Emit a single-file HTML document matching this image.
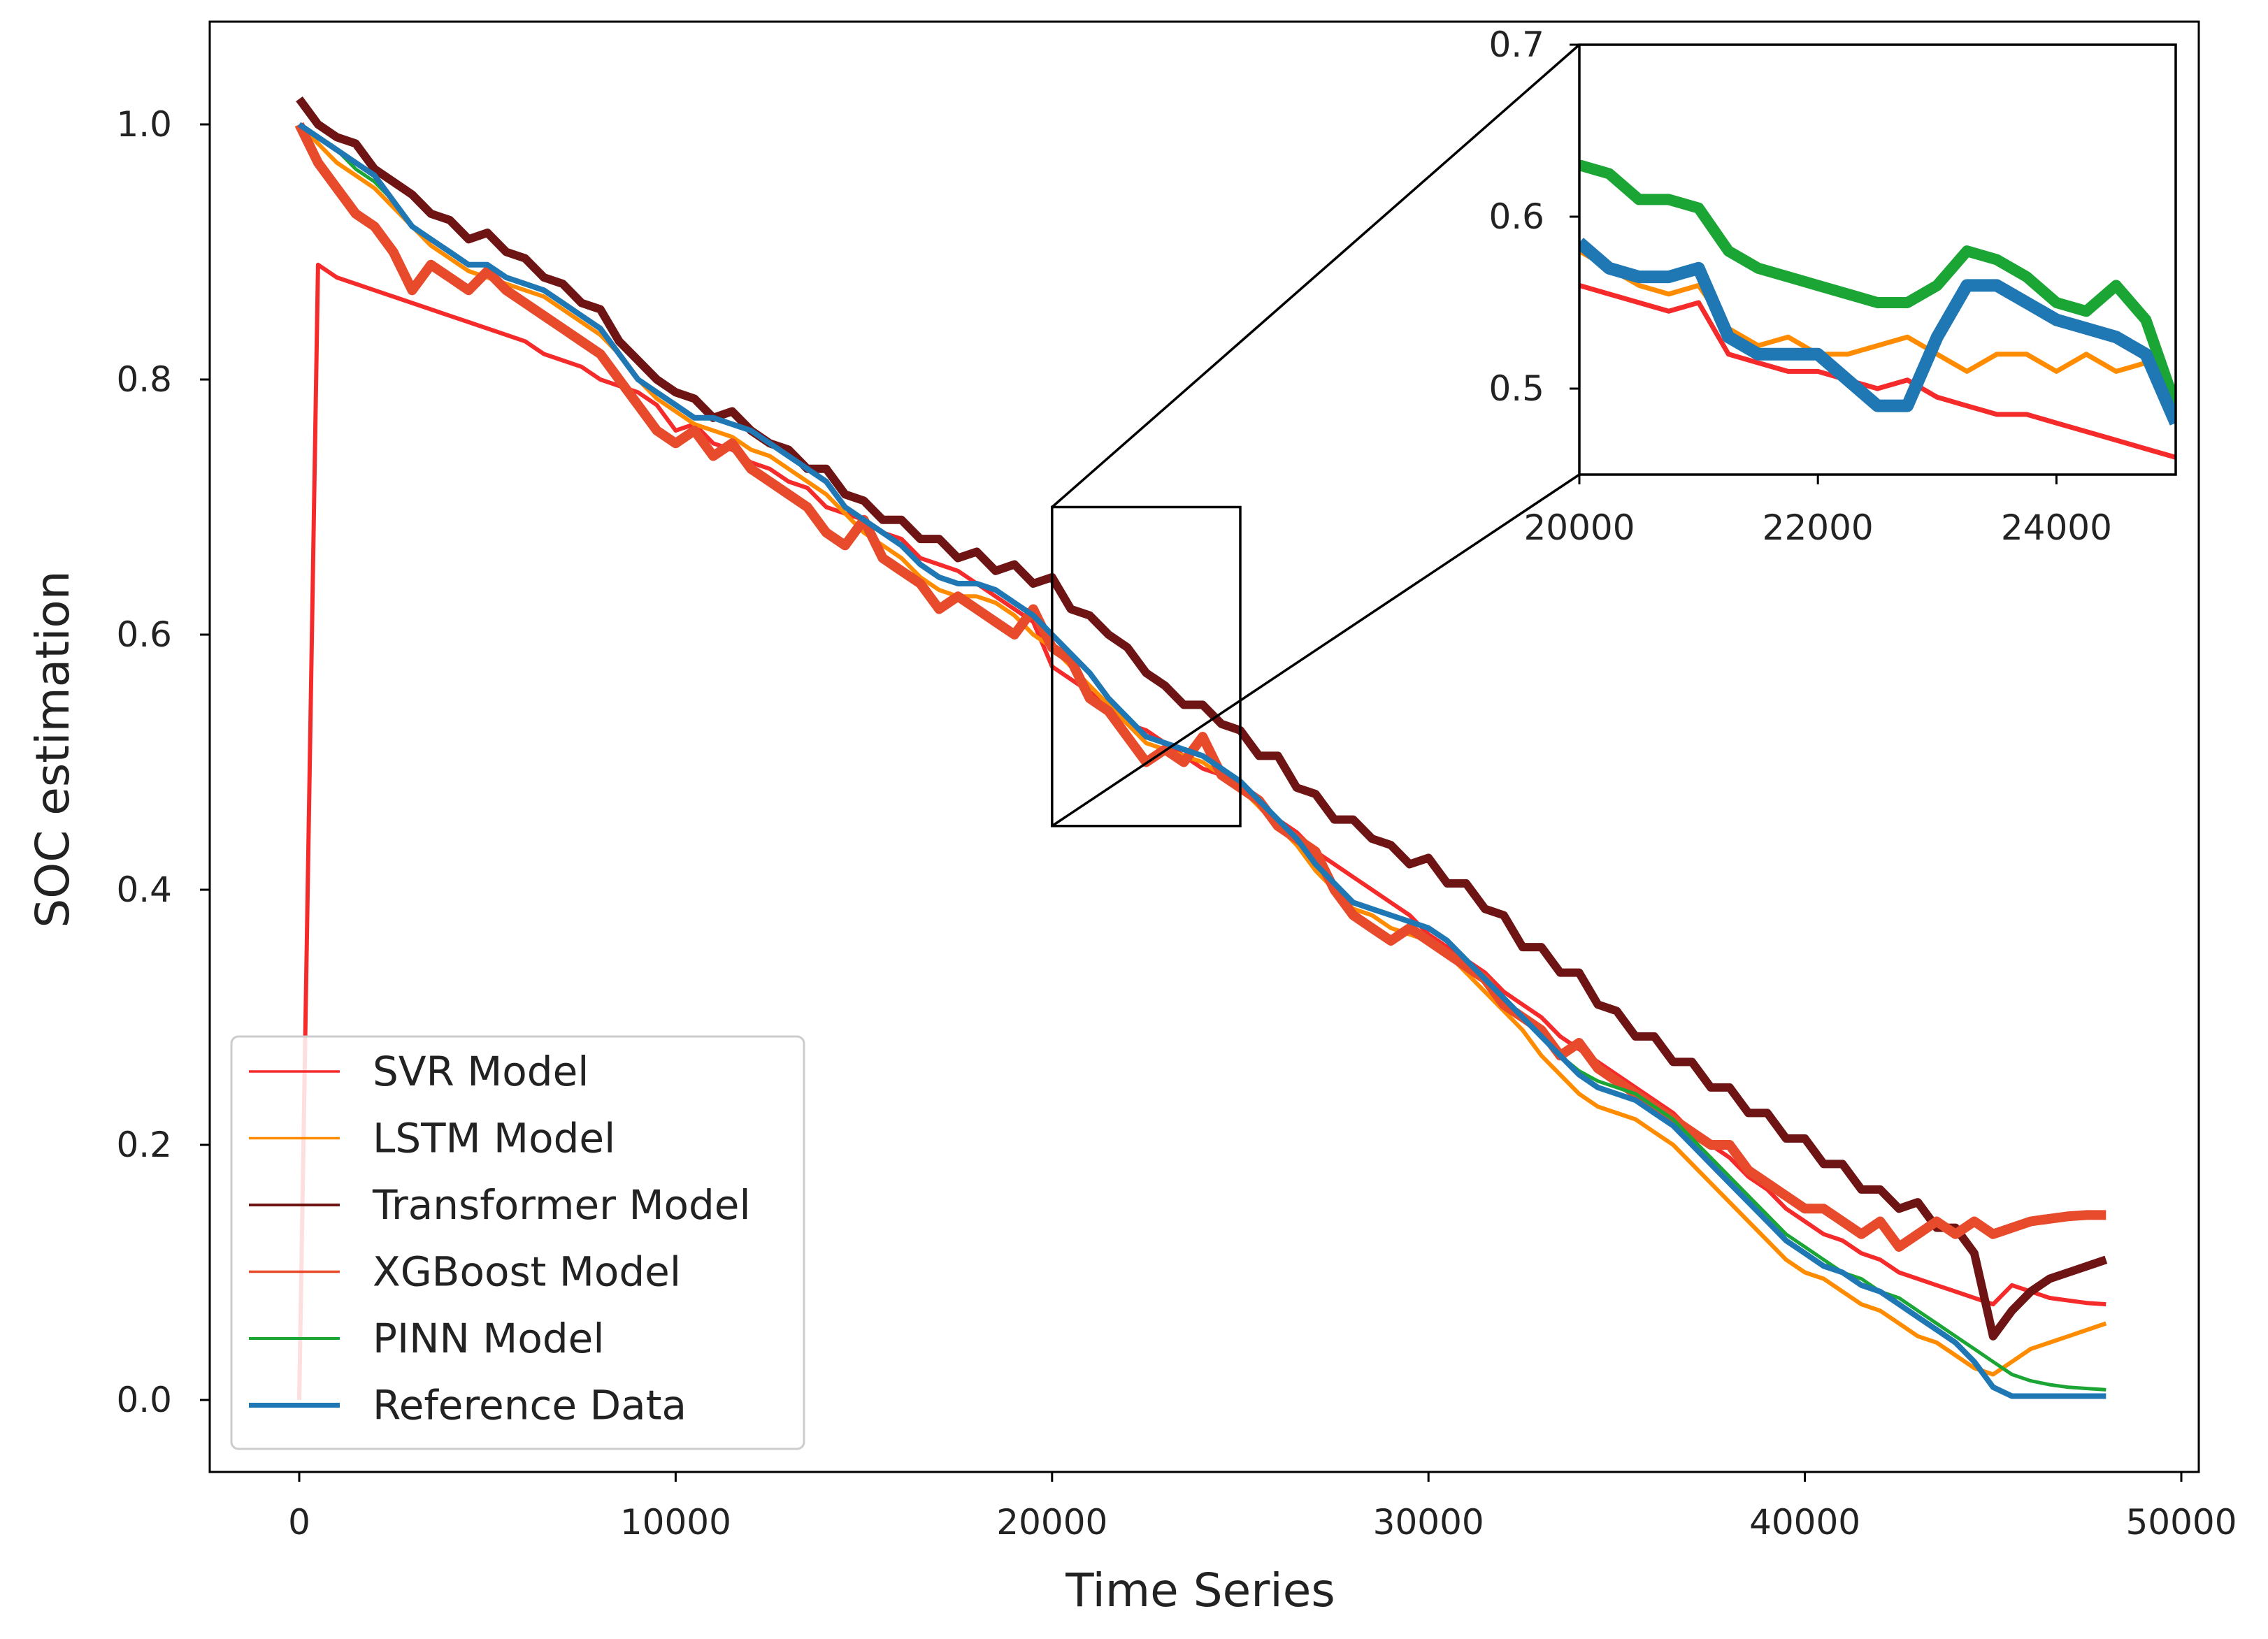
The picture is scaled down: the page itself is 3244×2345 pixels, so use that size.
<!DOCTYPE html>
<html><head><meta charset="utf-8"><style>
html,body{margin:0;padding:0;background:#fff;}
svg{display:block;font-family:"DejaVu Sans","Liberation Sans",sans-serif;}
</style></head><body>
<svg id="chart" width="3244" height="2345" viewBox="0 0 3244 2345" xmlns="http://www.w3.org/2000/svg">
<rect x="0" y="0" width="3244" height="2345" fill="#fff"/>
<g id="main"></g>
<g id="inset"></g>
<g id="legend"></g>
</svg>
<script>
const times = [];
for (let i = 0; i <= 96; i++) times.push(i * 500);
const seriesNames = ["SVR Model","LSTM Model","Transformer Model","XGBoost Model","PINN Model","Reference Data"];
const svrVals = [0,.89,.88,.875,.87,.865,.86,.855,.85,.845,
.84,.835,.83,.82,.815,.81,.80,.795,.79,.78,
.76,.765,.75,.745,.735,.73,.72,.715,.70,.695,
.69,.68,.675,.66,.655,.65,.64,.63,.62,.61,
.575,.565,.555,.545,.53,.525,.515,.505,.495,.49,
.48,.47,.455,.445,.43,.42,.41,.40,.39,.38,
.365,.355,.345,.335,.32,.31,.30,.285,.275,.265,
.255,.245,.235,.225,.21,.20,.19,.175,.165,.15,
.14,.13,.125,.115,.11,.10,.095,.09,.085,.08,
.075,.09,.085,.08,.078,.076,.075];
const lstmVals = [1.0,.985,.97,.96,.95,.935,.92,.905,.895,.885,
.88,.875,.87,.865,.855,.845,.835,.82,.80,.785,
.775,.765,.76,.755,.745,.74,.73,.72,.71,.695,
.68,.67,.66,.645,.635,.63,.63,.625,.615,.60,
.59,.575,.56,.545,.53,.515,.51,.505,.50,.49,
.48,.465,.45,.435,.415,.40,.385,.38,.37,.365,
.36,.35,.335,.32,.305,.29,.27,.255,.24,.23,
.225,.22,.21,.20,.185,.17,.155,.14,.125,.11,
.10,.095,.085,.075,.07,.06,.05,.045,.035,.025,
.02,.03,.04,.045,.05,.055,.06];
const transVals = [1.02,1.0,.99,.985,.965,.955,.945,.93,.925,.91,
.915,.90,.895,.88,.875,.86,.855,.83,.815,.80,
.79,.785,.77,.775,.76,.75,.745,.73,.73,.71,
.705,.69,.69,.675,.675,.66,.665,.65,.655,.64,
.645,.62,.615,.60,.59,.57,.56,.545,.545,.53,
.525,.505,.505,.48,.475,.455,.455,.44,.435,.42,
.425,.405,.405,.385,.38,.355,.355,.335,.335,.31,
.305,.285,.285,.265,.265,.245,.245,.225,.225,.205,
.205,.185,.185,.165,.165,.15,.155,.135,.135,.115,
.05,.07,.085,.095,.10,.105,.11];
const xgbVals = [1.0,.97,.95,.93,.92,.90,.87,.89,.88,.87,
.885,.87,.86,.85,.84,.83,.82,.80,.78,.76,
.75,.76,.74,.75,.73,.72,.71,.70,.68,.67,
.69,.66,.65,.64,.62,.63,.62,.61,.60,.62,
.59,.58,.55,.54,.52,.50,.51,.50,.52,.49,
.48,.47,.45,.44,.43,.40,.38,.37,.36,.37,
.36,.35,.34,.33,.31,.30,.29,.27,.28,.26,
.25,.24,.23,.22,.21,.20,.20,.18,.17,.16,
.15,.15,.14,.13,.14,.12,.13,.14,.13,.14,
.13,.135,.14,.142,.144,.145,.145];
const pinnVals = [1.0,.99,.98,.965,.955,.94,.92,.91,.90,.89,
.89,.88,.875,.87,.86,.85,.84,.82,.80,.79,
.78,.77,.77,.765,.76,.75,.74,.73,.72,.70,
.69,.68,.67,.655,.645,.64,.64,.635,.625,.615,
.60,.585,.57,.55,.535,.52,.515,.51,.505,.495,
.485,.47,.455,.44,.42,.405,.39,.385,.38,.375,
.37,.36,.345,.33,.315,.30,.285,.27,.258,.25,
.245,.24,.23,.22,.205,.19,.175,.16,.145,.13,
.12,.11,.10,.095,.085,.08,.07,.06,.05,.04,
.03,.02,.015,.012,.01,.009,.008];
const refVals = [1.0,.99,.98,.97,.96,.94,.92,.91,.90,.89,
.89,.88,.875,.87,.86,.85,.84,.82,.80,.79,
.78,.77,.77,.765,.76,.75,.74,.73,.72,.70,
.69,.68,.67,.655,.645,.64,.64,.635,.625,.615,
.60,.585,.57,.55,.535,.52,.515,.51,.505,.495,
.485,.47,.455,.44,.42,.405,.39,.385,.38,.375,
.37,.36,.345,.33,.315,.30,.285,.27,.255,.245,
.24,.235,.225,.215,.20,.185,.17,.155,.14,.125,
.115,.105,.10,.09,.085,.075,.065,.055,.045,.03,
.01,.003,.003,.003,.003,.003,.003];
const xTicks = [0,10000,20000,30000,40000,50000];
const yTicks = [0.0,0.2,0.4,0.6,0.8,1.0];
const xTickLabels = ["0","10000","20000","30000","40000","50000"];
const yTickLabels = ["0.0","0.2","0.4","0.6","0.8","1.0"];
const insetTimes = [];
for (let i = 0; i <= 20; i++) insetTimes.push(20000 + i * 250);
const insetRef = [.585,.57,.565,.565,.57,.53,.52,.52,.52,.505,.49,.49,.53,.56,.56,.55,.54,.535,.53,.52,.48];
const insetPinn = [.63,.625,.61,.61,.605,.58,.57,.565,.56,.555,.55,.55,.56,.58,.575,.565,.55,.545,.56,.54,.49];
const insetLstm = [.58,.57,.56,.555,.56,.535,.525,.53,.52,.52,.525,.53,.52,.51,.52,.52,.51,.52,.51,.515,.50];
const insetSvr = [.56,.555,.55,.545,.55,.52,.515,.51,.51,.505,.50,.505,.495,.49,.485,.485,.48,.475,.47,.465,.46];
const insetXTicks = [20000,22000,24000];
const insetYTicks = [0.5,0.6,0.7];
const insetXLabels = ["20000","22000","24000"];
const insetYLabels = ["0.5","0.6","0.7"];

const NS = "http://www.w3.org/2000/svg";
function mk(tag, attrs, parent){ const e=document.createElementNS(NS,tag); for(const k in attrs) e.setAttribute(k,attrs[k]); parent.appendChild(e); return e; }

const L=300,R=3145,T=31,B=2106;
const xS = v => 428 + v*(3120-428)/50000;
const yS = v => 2003 - v*(2003-178);
const main=document.getElementById('main');
const colors = {svr:"#f52a2a",lstm:"#ff8c00",trans:"#6e1414",xgb:"#e84a2c",pinn:"#1aa534",ref:"#1f77b4"};
function line(xs, ys, xf, yf, color, w, parent, name){
  let d=""; for(let i=0;i<ys.length;i++){ d+=(i?"L":"M")+xf(xs[i]).toFixed(1)+","+yf(ys[i]).toFixed(1); }
  const p=mk('path',{d:d,fill:"none",stroke:color,"stroke-width":w,"stroke-linejoin":"round"},parent);
  
  
  return p;
}
line(times,svrVals,xS,yS,colors.svr,6,main,"svr-line");
line(times,lstmVals,xS,yS,colors.lstm,6,main,"lstm-line");
line(times,transVals,xS,yS,colors.trans,12,main,"transformer-line");
line(times,xgbVals,xS,yS,colors.xgb,14,main,"xgboost-line");
line(times,pinnVals,xS,yS,colors.pinn,5,main,"pinn-line");
line(times,refVals,xS,yS,colors.ref,8,main,"reference-line");
const frame=mk('rect',{x:L,y:T,width:R-L,height:B-T,fill:"none",stroke:"#000","stroke-width":3},main);


xTicks.forEach((v,i)=>{
  mk('line',{x1:xS(v),x2:xS(v),y1:B,y2:B+14,stroke:"#000","stroke-width":3},main);
  const t=mk('text',{x:xS(v),y:2195,"font-size":50,"text-anchor":"middle",fill:"#222"},main);
  t.textContent=xTickLabels[i];
  
  
});
yTicks.forEach((v,i)=>{
  mk('line',{x1:L-14,x2:L,y1:yS(v),y2:yS(v),stroke:"#000","stroke-width":3},main);
  const t=mk('text',{x:246,y:yS(v)+17,"font-size":50,"text-anchor":"end",fill:"#222"},main);
  t.textContent=yTickLabels[i];
  
  
});
const xl=mk('text',{x:1717,y:2298,"font-size":66,"text-anchor":"middle",fill:"#222"},main);
xl.textContent="Time Series";


const yl=mk('text',{x:0,y:0,"font-size":66,"text-anchor":"middle",fill:"#222",transform:"translate(98,1072) rotate(-90)"},main);
yl.textContent="SOC estimation";



const zx0=20000,zx1=25000,zy0=0.45,zy1=0.7;
const IL=2259,IR=3112,IT=64,IB=679;
const zb=mk('rect',{x:xS(zx0),y:yS(zy1),width:xS(zx1)-xS(zx0),height:yS(zy0)-yS(zy1),fill:"none",stroke:"#000","stroke-width":3.5},main);


const c1=mk('line',{x1:xS(zx0),y1:yS(zy1),x2:IL,y2:IT,stroke:"#000","stroke-width":3.5},main);


const c2=mk('line',{x1:xS(zx0),y1:yS(zy0),x2:IL,y2:IB,stroke:"#000","stroke-width":3.5},main);



const inset=document.getElementById('inset');
const ixS = v => IL + (v-zx0)*(IR-IL)/(zx1-zx0);
const iyS = v => IB - (v-zy0)*(IB-IT)/(zy1-zy0);
mk('rect',{x:IL,y:IT,width:IR-IL,height:IB-IT,fill:"#fff"},inset);
const clip=mk('clipPath',{id:"ic"},inset); mk('rect',{x:IL,y:IT,width:IR-IL,height:IB-IT},clip);
const ig=mk('g',{"clip-path":"url(#ic)"},inset);
line(insetTimes,insetSvr,ixS,iyS,colors.svr,7,ig,"inset-svr-line");
line(insetTimes,insetLstm,ixS,iyS,colors.lstm,7,ig,"inset-lstm-line");
line(insetTimes,insetPinn,ixS,iyS,colors.pinn,16,ig,"inset-pinn-line");
line(insetTimes,insetRef,ixS,iyS,colors.ref,18,ig,"inset-reference-line");
const ifr=mk('rect',{x:IL,y:IT,width:IR-IL,height:IB-IT,fill:"none",stroke:"#000","stroke-width":3.5},inset);


insetXTicks.forEach((v,i)=>{
  mk('line',{x1:ixS(v),x2:ixS(v),y1:IB,y2:IB+14,stroke:"#000","stroke-width":3},inset);
  const t=mk('text',{x:ixS(v),y:772,"font-size":50,"text-anchor":"middle",fill:"#222"},inset);
  t.textContent=insetXLabels[i];
  
  
});
insetYTicks.forEach((v,i)=>{
  mk('line',{x1:IL-14,x2:IL,y1:iyS(v),y2:iyS(v),stroke:"#000","stroke-width":3},inset);
  const t=mk('text',{x:2209,y:iyS(v)+17,"font-size":50,"text-anchor":"end",fill:"#222"},inset);
  t.textContent=insetYLabels[i];
  
  
});

const lg=document.getElementById('legend');
const lb=mk('rect',{x:331,y:1483,width:819,height:590,rx:10,fill:"#fff","fill-opacity":0.85,stroke:"#ccc","stroke-width":3},lg);


const legColors=[colors.svr,colors.lstm,colors.trans,colors.xgb,colors.pinn,colors.ref];
const legW=[3.5,3.5,4,3.5,4,7];
seriesNames.forEach((n,i)=>{
  const y=1533+i*95.5;
  const g=mk('g',{},lg);
  
  
  mk('line',{x1:356,x2:486,y1:y,y2:y,stroke:legColors[i],"stroke-width":legW[i]},g);
  const t=mk('text',{x:533,y:y+20,"font-size":58,fill:"#222"},g);
  t.textContent=n;
});
</script>
</body></html>
